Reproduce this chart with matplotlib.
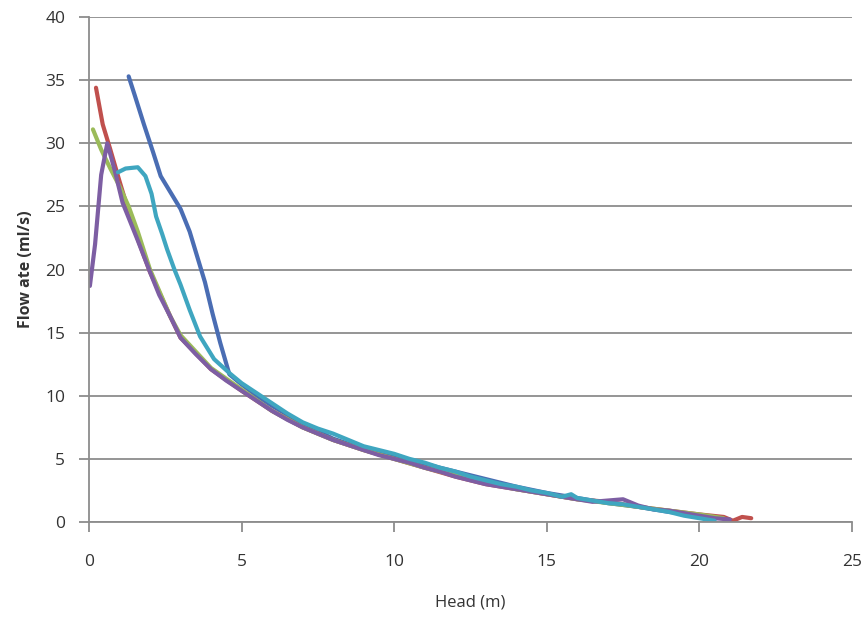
import matplotlib.pyplot as plt

# series (Head in m, Flow rate in ml/s)
blue_x = [1.3, 1.5, 1.8, 2.1, 2.35, 2.7, 3.0, 3.3, 3.55, 3.8, 4.05, 4.3, 4.6, 5.0, 5.5, 6.0, 6.5, 7.0, 7.5,
          8.0, 8.5, 9.0, 9.5, 10.0, 11.0, 12.0, 13.0, 14.0, 15.0, 15.5, 16.0, 17.0, 18.0, 19.0, 19.5, 20.0, 20.3]
blue_y = [35.3, 33.8, 31.5, 29.3, 27.4, 26.0, 24.8, 23.0, 21.0, 19.0, 16.5, 14.2, 11.7, 10.9, 10.0, 9.2, 8.5, 7.7, 7.2,
          6.6, 6.2, 5.9, 5.5, 5.2, 4.6, 4.0, 3.4, 2.8, 2.3, 2.1, 1.9, 1.5, 1.2, 0.8, 0.7, 0.4, 0.2]

red_x = [0.23, 0.45, 0.7, 1.0, 1.3, 1.6, 2.0, 2.66, 3.0, 4.0, 5.0, 6.0, 7.0, 8.0, 9.0, 10.0, 11.0, 12.0,
         13.0, 14.0, 15.0, 16.0, 17.0, 18.0, 19.0, 20.0, 20.8, 21.1, 21.4, 21.7]
red_y = [34.4, 31.5, 29.5, 27.0, 24.6, 22.4, 19.8, 16.3, 14.6, 12.1, 10.4, 8.8, 7.5, 6.5, 5.7, 5.0, 4.3, 3.6,
         3.0, 2.6, 2.2, 1.8, 1.6, 1.2, 0.9, 0.6, 0.4, 0.1, 0.4, 0.3]

green_x = [0.13, 0.4, 0.7, 1.0, 1.3, 1.6, 2.0, 2.66, 3.0, 4.0, 5.0, 6.0, 7.0, 8.0, 9.0, 10.0, 11.0, 12.0,
           13.0, 14.0, 15.0, 16.0, 17.0, 18.0, 19.0, 20.0, 20.8]
green_y = [31.1, 29.5, 28.0, 26.6, 25.0, 23.0, 20.0, 16.3, 14.8, 12.2, 10.5, 8.8, 7.5, 6.5, 5.7, 5.0, 4.3, 3.7,
           3.1, 2.6, 2.2, 1.8, 1.5, 1.2, 0.9, 0.6, 0.3]

purple_x = [0.03, 0.2, 0.4, 0.6, 0.85, 1.1, 1.35, 1.6, 2.0, 2.3, 2.66, 3.0, 3.5, 4.0, 4.5, 5.0, 5.5, 6.0, 6.5,
            7.0, 7.5, 8.0, 8.5, 9.0, 9.5, 10.0, 10.5, 11.0, 11.5, 12.0, 12.5, 13.0, 13.5, 14.0, 14.5, 15.0,
            15.5, 16.0, 16.5, 17.0, 17.5, 18.0, 18.5, 19.0, 19.5, 20.0, 20.5, 21.0]
purple_y = [18.7, 22.0, 27.5, 30.0, 27.8, 25.3, 23.8, 22.3, 19.8, 18.0, 16.3, 14.6, 13.3, 12.1, 11.2, 10.4, 9.6, 8.8, 8.1,
            7.5, 7.0, 6.5, 6.1, 5.7, 5.3, 5.0, 4.7, 4.3, 4.0, 3.6, 3.3, 3.0, 2.8, 2.6, 2.4, 2.2,
            2.0, 1.8, 1.6, 1.7, 1.8, 1.3, 1.0, 0.9, 0.7, 0.5, 0.3, 0.2]

cyan_x = [0.95, 1.2, 1.6, 1.85, 2.05, 2.2, 2.4, 2.56, 2.8, 3.0, 3.3, 3.64, 4.1, 4.6, 5.0, 5.5, 6.0, 6.5, 7.0,
          7.5, 8.0, 8.5, 9.0, 9.5, 10.0, 10.5, 11.0, 11.5, 12.0, 12.5, 13.0, 13.5, 14.0, 14.5, 15.0, 15.5,
          15.8, 16.0, 16.5, 17.0, 17.5, 18.0, 18.5, 19.0, 19.5, 20.0, 20.5]
cyan_y = [27.7, 28.0, 28.1, 27.4, 26.0, 24.2, 22.8, 21.6, 20.0, 18.8, 16.8, 14.7, 12.9, 11.8, 11.0, 10.2, 9.4, 8.6, 7.9,
          7.4, 7.0, 6.5, 6.0, 5.7, 5.4, 5.0, 4.7, 4.3, 4.0, 3.6, 3.3, 3.0, 2.8, 2.5, 2.3, 2.0,
          2.2, 1.9, 1.7, 1.5, 1.4, 1.2, 1.0, 0.8, 0.5, 0.3, 0.1]

fig = plt.figure(figsize=(8.68, 6.19), dpi=100)
ax = fig.add_axes([0.1025, 0.1567, 0.879, 0.8158])

lw = 3
ax.plot(blue_x, blue_y, color="#4a6db3", lw=lw, solid_capstyle="round")
ax.plot(red_x, red_y, color="#c0504d", lw=lw, solid_capstyle="round")
ax.plot(green_x, green_y, color="#9bbb59", lw=lw, solid_capstyle="round")
ax.plot(purple_x, purple_y, color="#7d5ea3", lw=lw, solid_capstyle="round")
ax.plot(cyan_x, cyan_y, color="#3fa6c0", lw=lw, solid_capstyle="round")

ax.set_xlim(0, 25)
ax.set_ylim(0, 40)
ax.set_xticks(range(0, 26, 5))
ax.set_yticks(range(0, 41, 5))
ax.yaxis.grid(True, color="#8c8c8c", lw=1.3)
ax.set_axisbelow(True)

for s in ["top", "right"]:
    ax.spines[s].set_visible(False)
for s in ["left", "bottom"]:
    ax.spines[s].set_color("#8c8c8c")
    ax.spines[s].set_linewidth(1.3)

ax.tick_params(direction="out", length=7, width=1.3, color="#8c8c8c", labelsize=12.5, labelcolor="#333333")
ax.tick_params(axis="x", pad=16)
ax.tick_params(axis="y", pad=10)
for lab in ax.get_xticklabels() + ax.get_yticklabels():
    lab.set_family("Open Sans")

ax.set_xlabel("Head (m)", fontsize=12, family="Open Sans", color="#333333", labelpad=18)
ax.set_ylabel("Flow ate (ml/s)", fontsize=11.5, family="Open Sans", fontweight="bold", color="#333333", labelpad=8)

plt.savefig("out.png")
